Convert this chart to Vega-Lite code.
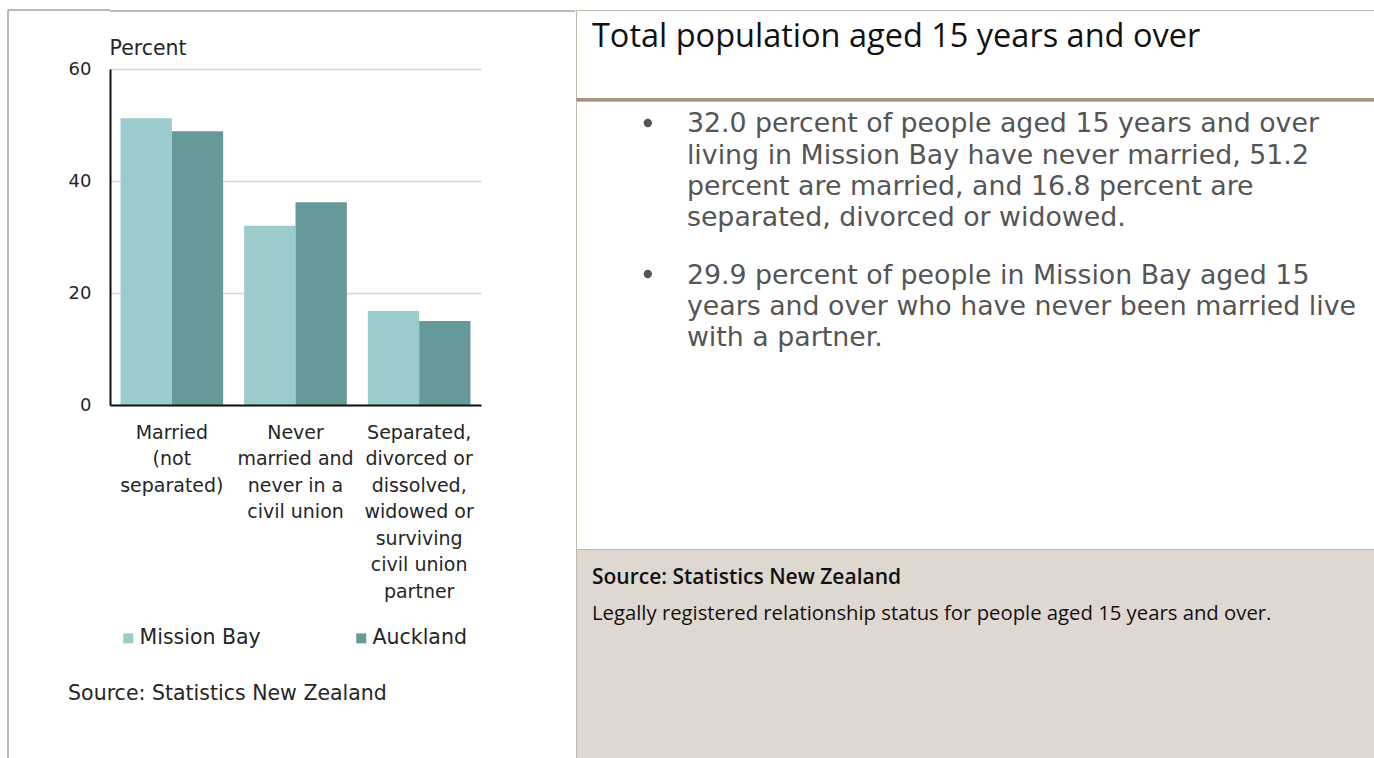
{
  "$schema": "https://vega.github.io/schema/vega-lite/v6.json",
  "background": "white",
  "padding": {"left": 7, "top": 9, "right": 0, "bottom": 0},
  "config": {"view": {"stroke": null}, "font": "DejaVu Sans"},
  "spacing": 0,
  "resolve": {"scale": {"color": "independent"}, "legend": {"color": "independent"}},
  "hconcat": [
    {
      "spacing": 0,
      "bounds": "flush",
      "resolve": {"scale": {"color": "independent"}, "legend": {"color": "independent"}},
      "hconcat": [
        {
          "width": 102,
          "height": 749,
          "data": {"values": [{"edge": "panel"}]},
          "layer": [
            {
              "mark": {"type": "rule", "color": "#c2b8ad", "strokeWidth": 2},
              "encoding": {
                "x": {"datum": 0, "type": "quantitative", "scale": {"domain": [0, 1]}, "axis": null},
                "y": {"datum": 0, "type": "quantitative", "scale": {"domain": [0, 1]}, "axis": null},
                "y2": {"datum": 1}
              }
            },
            {
              "mark": {"type": "rule", "color": "#c2b8ad", "strokeWidth": 2},
              "encoding": {
                "y": {"datum": 1, "type": "quantitative"},
                "x": {"datum": 0, "type": "quantitative"},
                "x2": {"datum": 1}
              }
            }
          ]
        },
        {
          "spacing": 57,
          "bounds": "flush",
          "resolve": {"scale": {"color": "independent"}, "legend": {"color": "independent"}},
          "vconcat": [
            {
              "width": 465,
              "height": 2,
              "view": {"fill": "#c2b8ad", "stroke": null},
              "data": {"values": [{"edge": "top"}]},
              "mark": {"type": "rule", "opacity": 0},
              "encoding": {}
            },
            {
              "width": 371,
              "height": 336,
              "data": {
                "values": [
                  {"status": "Married|(not|separated)", "area": "Mission Bay", "percent": 51.2},
                  {"status": "Married|(not|separated)", "area": "Auckland", "percent": 48.9},
                  {"status": "Never|married and|never in a|civil union", "area": "Mission Bay", "percent": 32.0},
                  {"status": "Never|married and|never in a|civil union", "area": "Auckland", "percent": 36.2},
                  {"status": "Separated,|divorced or|dissolved,|widowed or|surviving|civil union|partner", "area": "Mission Bay", "percent": 16.8},
                  {"status": "Separated,|divorced or|dissolved,|widowed or|surviving|civil union|partner", "area": "Auckland", "percent": 15.0}
                ]
              },
              "title": {
                "text": "Source: Statistics New Zealand",
                "orient": "bottom",
                "anchor": "start",
                "frame": "bounds",
                "font": "DejaVu Sans",
                "fontSize": 20.5,
                "fontWeight": "normal",
                "color": "#262626",
                "offset": 27
              },
              "mark": {"type": "bar"},
              "encoding": {
                "x": {
                  "field": "status",
                  "type": "nominal",
                  "sort": ["Married|(not|separated)", "Never|married and|never in a|civil union", "Separated,|divorced or|dissolved,|widowed or|surviving|civil union|partner"],
                  "scale": {"paddingInner": 0.17, "paddingOuter": 0.085},
                  "axis": {
                    "title": null,
                    "labelAngle": 0,
                    "labelExpr": "split(datum.label, '|')",
                    "labelFont": "DejaVu Sans",
                    "labelFontSize": 19,
                    "labelLineHeight": 26.5,
                    "labelColor": "#262626",
                    "labelPadding": 18,
                    "labelBaseline": "top",
                    "labelLimit": 300,
                    "labelOverlap": false,
                    "labelBound": false,
                    "ticks": false,
                    "grid": false,
                    "domainColor": "#111111",
                    "domainWidth": 2,
                    "zindex": 1
                  }
                },
                "xOffset": {"field": "area", "type": "nominal", "sort": ["Mission Bay", "Auckland"]},
                "y": {
                  "field": "percent",
                  "type": "quantitative",
                  "scale": {"domain": [0, 60]},
                  "axis": {
                    "values": [0, 20, 40, 60],
                    "grid": true,
                    "gridColor": "#d4d4d4",
                    "gridWidth": 1.5,
                    "domainColor": "#111111",
                    "domainWidth": 2,
                    "ticks": false,
                    "labelPadding": 19,
                    "labelFont": "DejaVu Sans",
                    "labelFontSize": 18,
                    "labelColor": "#262626",
                    "title": "Percent",
                    "titleAngle": 0,
                    "titleAlign": "left",
                    "titleBaseline": "alphabetic",
                    "titleX": -1,
                    "titleY": -14.5,
                    "titleFont": "DejaVu Sans",
                    "titleFontSize": 20.5,
                    "titleFontWeight": "normal",
                    "titleColor": "#262626"
                  }
                },
                "color": {
                  "field": "area",
                  "type": "nominal",
                  "sort": ["Mission Bay", "Auckland"],
                  "scale": {"domain": ["Mission Bay", "Auckland"], "range": ["#9ccbcb", "#669999"]},
                  "legend": {
                    "orient": "bottom",
                    "direction": "horizontal",
                    "title": null,
                    "symbolType": "square",
                    "symbolSize": 100,
                    "symbolStrokeWidth": 0,
                    "labelFont": "DejaVu Sans",
                    "labelFontSize": 20.5,
                    "labelColor": "#262626",
                    "labelOffset": 1,
                    "columnPadding": 90,
                    "padding": 8,
                    "offset": 19
                  }
                }
              }
            }
          ]
        }
      ]
    },
    {
      "spacing": 0,
      "bounds": "flush",
      "vconcat": [
        {
          "width": 798,
          "height": 88,
          "view": {"fill": "white", "stroke": "#c2b8ad", "strokeWidth": 1},
          "data": {"values": [{"t": "Total population aged 15 years and over"}]},
          "mark": {"type": "text", "align": "left", "baseline": "alphabetic", "font": "Open Sans", "fontSize": 32.5, "color": "#111111"},
          "encoding": {
            "text": {"field": "t"},
            "x": {"datum": 2.0, "type": "quantitative", "scale": {"domain": [0, 100]}, "axis": null},
            "y": {"datum": 57.5, "type": "quantitative", "scale": {"domain": [0, 100]}, "axis": null}
          }
        },
        {
          "width": 798,
          "height": 3,
          "view": {"fill": "#a8957f", "stroke": null},
          "data": {"values": [{"edge": "divider"}]},
          "mark": {"type": "rule", "opacity": 0},
          "encoding": {}
        },
        {
          "width": 798,
          "height": 448,
          "view": {"fill": "white", "stroke": "#c2b8ad", "strokeWidth": 1},
          "data": {
            "values": [
              {"b": 1, "lines": ["32.0 percent of people aged 15 years and over", "living in Mission Bay have never married, 51.2", "percent are married, and 16.8 percent are", "separated, divorced or widowed."]},
              {"b": 2, "lines": ["29.9 percent of people in Mission Bay aged 15", "years and over who have never been married live", "with a partner."]}
            ]
          },
          "encoding": {
            "y": {"field": "b", "type": "ordinal", "scale": {"type": "point", "padding": 0.983, "align": 0.106}, "axis": null}
          },
          "layer": [
            {
              "mark": {"type": "circle", "size": 70, "opacity": 1, "color": "#555555", "yOffset": -9.5},
              "encoding": {
                "x": {"datum": 9.0, "type": "quantitative", "scale": {"domain": [0, 100]}, "axis": null}
              }
            },
            {
              "mark": {"type": "text", "align": "left", "baseline": "alphabetic", "font": "DejaVu Sans", "fontSize": 26.8, "lineHeight": 31.3, "color": "#555555"},
              "encoding": {
                "x": {"datum": 13.9, "type": "quantitative", "axis": null},
                "text": {"field": "lines"}
              }
            }
          ]
        },
        {
          "width": 798,
          "height": 215,
          "view": {"fill": "#dfd8d1", "stroke": "#c2b8ad", "strokeWidth": 1},
          "layer": [
            {
              "data": {"values": [{"t": "Source: Statistics New Zealand"}]},
              "mark": {"type": "text", "align": "left", "baseline": "alphabetic", "font": "Open Sans", "fontSize": 21, "fontWeight": 600, "color": "#111111"},
              "encoding": {
                "text": {"field": "t"},
                "x": {"datum": 2.0, "type": "quantitative", "scale": {"domain": [0, 100]}, "axis": null},
                "y": {"datum": 83.5, "type": "quantitative", "scale": {"domain": [0, 100]}, "axis": null}
              }
            },
            {
              "data": {"values": [{"t": "Legally registered relationship status for people aged 15 years and over."}]},
              "mark": {"type": "text", "align": "left", "baseline": "alphabetic", "font": "Open Sans", "fontSize": 20.3, "color": "#111111"},
              "encoding": {
                "text": {"field": "t"},
                "x": {"datum": 2.0, "type": "quantitative"},
                "y": {"datum": 67.0, "type": "quantitative"}
              }
            }
          ]
        }
      ]
    }
  ]
}
